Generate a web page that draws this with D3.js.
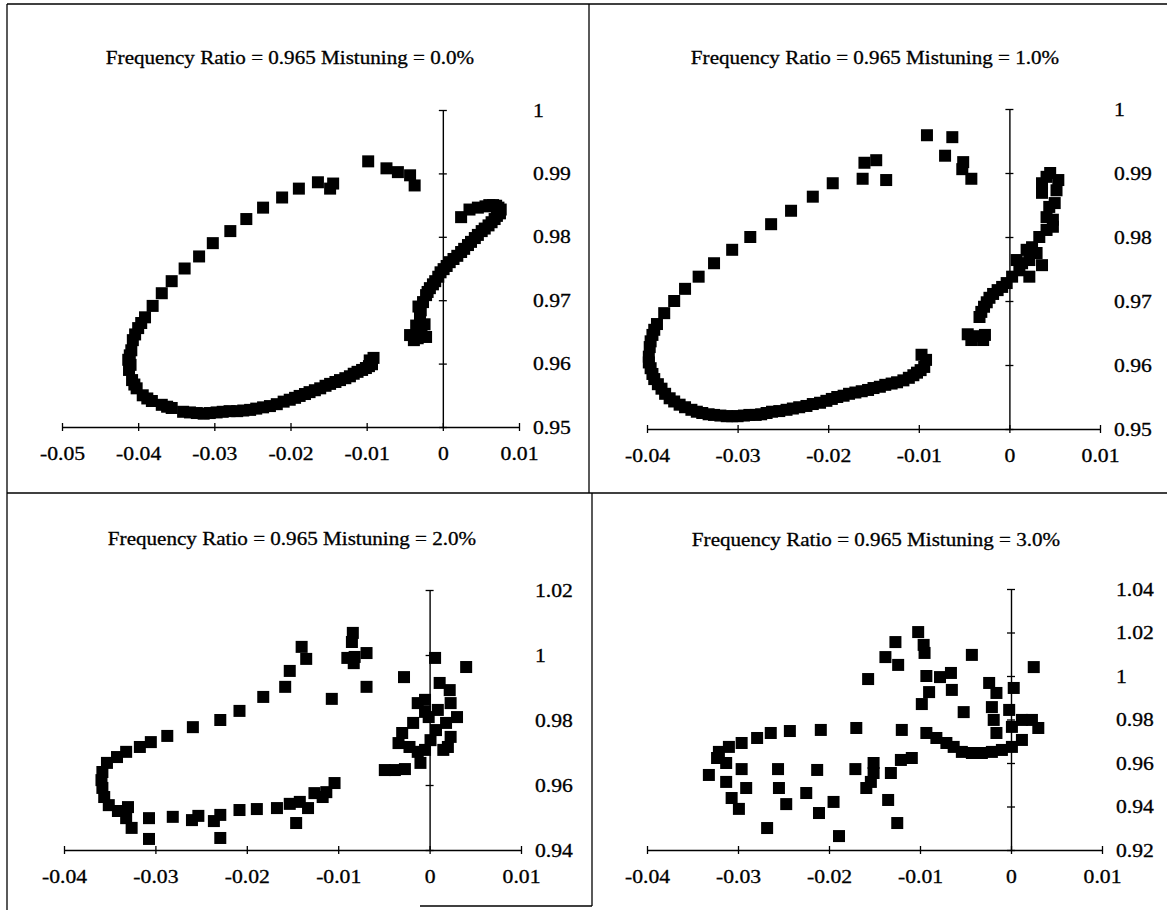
<!DOCTYPE html>
<html><head><meta charset="utf-8">
<script src="https://cdn.jsdelivr.net/npm/d3@7/dist/d3.min.js"></script>
<style>
html,body{margin:0;padding:0;background:#fff;}
svg{display:block;}
text{font-family:"Liberation Serif","Times New Roman",serif;fill:#000;}
</style></head>
<body>
<svg id="chart" width="1167" height="910"></svg>
<script>
// ---------- DATA ----------
const titles = [
  "Frequency Ratio = 0.965 Mistuning = 0.0%",
  "Frequency Ratio = 0.965 Mistuning = 1.0%",
  "Frequency Ratio = 0.965 Mistuning = 2.0%",
  "Frequency Ratio = 0.965 Mistuning = 3.0%"
];
const xTicksA = [-0.05,-0.04,-0.03,-0.02,-0.01,0,0.01];
const xTicksB = [-0.04,-0.03,-0.02,-0.01,0,0.01];
const yTicksA = [0.95,0.96,0.97,0.98,0.99,1];
const yTicksC = [0.94,0.96,0.98,1,1.02];
const yTicksD = [0.92,0.94,0.96,0.98,1,1.02,1.04];

const mist0 = [
 [-0.0037,0.9881],[-0.0043,0.9897],[-0.0059,0.9902],[-0.0074,0.9908],[-0.0098,0.9919],
 [-0.0144,0.9884],[-0.0148,0.9876],[-0.0164,0.9886],[-0.0189,0.9876],[-0.0211,0.9862],[-0.0236,0.9846],
 [-0.0258,0.9828],[-0.0279,0.9809],[-0.0302,0.9790],[-0.0320,0.9769],[-0.0339,0.9750],
 [-0.0356,0.9730],[-0.0369,0.9711],[-0.0381,0.9691],[-0.0391,0.9673],[-0.0400,0.9656],
 [-0.0396,0.9664],[-0.0404,0.9646],
 [-0.0407,0.9637],[-0.0409,0.9621],[-0.0411,0.9613],[-0.0413,0.9606],[-0.0410,0.9598],[-0.0412,0.9590],[-0.0408,0.9574],
 [-0.0405,0.9567],[-0.0402,0.9561],[-0.0394,0.9550],[-0.0388,0.9545],[-0.0382,0.9541],[-0.0369,0.9535],[-0.0362,0.9532],[-0.0356,0.9530],
 [-0.0341,0.9524],[-0.0332,0.9523],[-0.0323,0.9522],[-0.0314,0.9521],[-0.0306,0.9522],[-0.0297,0.9523],[-0.0289,0.9524],[-0.0280,0.9525],[-0.0270,0.9525],
 [-0.0262,0.9526],[-0.0253,0.9527],[-0.0245,0.9529],[-0.0236,0.9531],[-0.0227,0.9533],[-0.0218,0.9536],[-0.0209,0.9540],[-0.0201,0.9543],[-0.0194,0.9546],[-0.0188,0.9549],
 [-0.0181,0.9552],[-0.0175,0.9555],[-0.0168,0.9558],[-0.0161,0.9561],[-0.0154,0.9565],[-0.0148,0.9568],[-0.0141,0.9571],[-0.0135,0.9574],[-0.0128,0.9577],[-0.0122,0.9580],
 [-0.0117,0.9584],[-0.0112,0.9587],[-0.0106,0.9590],[-0.0101,0.9593],[-0.0097,0.9596],[-0.0093,0.9599],[-0.0096,0.9605],[-0.0091,0.9609],
 [-0.0043,0.9645],[-0.0033,0.9640],[-0.0022,0.9642],[-0.0038,0.9637],[-0.0028,0.9651],
 [-0.0035,0.9660],[-0.0024,0.9662],[-0.0030,0.9672],[-0.0029,0.9684],[-0.0032,0.9690],[-0.0026,0.9697],[-0.0022,0.9708],[-0.0020,0.9713],[-0.0017,0.9719],
 [-0.0013,0.9725],[-0.0010,0.9730],[-0.0006,0.9737],[-0.0003,0.9744],[0.0001,0.9749],[0.0005,0.9754],[0.0009,0.9760],[0.0014,0.9765],[0.0019,0.9770],[0.0024,0.9776],
 [0.0028,0.9781],[0.0033,0.9787],[0.0037,0.9792],[0.0042,0.9798],[0.0046,0.9803],[0.0051,0.9809],[0.0055,0.9813],[0.0060,0.9818],[0.0064,0.9823],[0.0068,0.9828],
 [0.0071,0.9833],[0.0075,0.9837],[0.0076,0.9843],[0.0073,0.9846],[0.0070,0.9849],[0.0066,0.9850],[0.0061,0.9850],[0.0056,0.9848],[0.0046,0.9846],
 [0.0035,0.9843],[0.0024,0.9831]
];
const mist1 = [
 [-0.0042,0.9891],[-0.0052,0.9906],[-0.0051,0.9917],[-0.0071,0.9927],[-0.0063,0.9956],
 [-0.0091,0.9959],[-0.0136,0.9889],[-0.0147,0.9920],[-0.0160,0.9916],[-0.0162,0.9891],
 [-0.0195,0.9884],[-0.0217,0.9863],[-0.0241,0.9841],[-0.0263,0.9820],[-0.0286,0.9800],
 [-0.0306,0.9780],[-0.0326,0.9759],[-0.0343,0.9738],[-0.0358,0.9719],[-0.0370,0.9700],
 [-0.0381,0.9681],[-0.0389,0.9664],[-0.0392,0.9655],[-0.0394,0.9647],[-0.0396,0.9637],[-0.0397,0.9628],[-0.0398,0.9613],
 [-0.0398,0.9604],[-0.0396,0.9595],[-0.0394,0.9586],[-0.0392,0.9578],[-0.0388,0.9570],[-0.0384,0.9563],[-0.0380,0.9555],[-0.0375,0.9548],[-0.0370,0.9543],[-0.0364,0.9538],
 [-0.0358,0.9534],[-0.0351,0.9530],[-0.0345,0.9527],[-0.0339,0.9525],[-0.0332,0.9523],[-0.0326,0.9522],[-0.0319,0.9521],[-0.0312,0.9520],[-0.0306,0.9520],[-0.0300,0.9520],
 [-0.0293,0.9521],[-0.0287,0.9522],[-0.0280,0.9522],[-0.0274,0.9523],[-0.0268,0.9525],[-0.0262,0.9527],[-0.0254,0.9528],[-0.0246,0.9530],[-0.0239,0.9532],[-0.0232,0.9534],
 [-0.0224,0.9536],[-0.0217,0.9539],[-0.0209,0.9541],[-0.0202,0.9544],[-0.0196,0.9547],[-0.0190,0.9550],[-0.0183,0.9552],[-0.0177,0.9555],[-0.0170,0.9557],[-0.0163,0.9559],
 [-0.0156,0.9561],[-0.0150,0.9564],[-0.0143,0.9566],[-0.0137,0.9569],[-0.0130,0.9571],[-0.0124,0.9573],[-0.0117,0.9576],[-0.0111,0.9580],[-0.0106,0.9584],[-0.0102,0.9588],
 [-0.0098,0.9592],[-0.0094,0.9597],[-0.0092,0.9608],[-0.0097,0.9616],
 [-0.0046,0.9648],[-0.0035,0.9645],[-0.0027,0.9647],[-0.0042,0.9639],[-0.0029,0.9639],
 [-0.0033,0.9675],[-0.0031,0.9683],[-0.0028,0.9691],[-0.0025,0.9698],[-0.0022,0.9705],[-0.0018,0.9711],[-0.0013,0.9717],[-0.0008,0.9722],[-0.0003,0.9728],
 [0.0003,0.9738],[0.0008,0.9764],[0.0011,0.9748],[0.0014,0.9759],[0.0022,0.9764],
 [0.0022,0.9738],[0.0036,0.9756],[0.0019,0.9780],[0.0025,0.9784],[0.0030,0.9775],
 [0.0033,0.9800],[0.0041,0.9811],[0.0048,0.9816],[0.0041,0.9831],[0.0044,0.9847],
 [0.0050,0.9853],[0.0048,0.9827],[0.0036,0.9869],[0.0036,0.9884],[0.0041,0.9894],
 [0.0045,0.9900],[0.0054,0.9889],[0.0052,0.9873]
];
const mist2 = [
 [-0.0084,1.0068],[-0.0085,1.0040],[-0.0082,0.9994],[-0.0090,0.9991],[-0.0069,1.0006],
 [-0.0083,0.9975],[-0.0069,0.9902],[-0.0107,0.9865],[-0.0140,1.0025],[-0.0135,0.9988],
 [-0.0153,0.9951],[-0.0158,0.9902],[-0.0182,0.9871],[-0.0208,0.9828],[-0.0229,0.9800],
 [-0.0259,0.9778],[-0.0287,0.9751],[-0.0305,0.9732],[-0.0317,0.9717],[-0.0332,0.9702],
 [-0.0342,0.9686],[-0.0353,0.9668],[-0.0358,0.9640],[-0.0359,0.9615],[-0.0358,0.9591],
 [-0.0356,0.9563],[-0.0351,0.9538],[-0.0341,0.9520],[-0.0330,0.9532],[-0.0332,0.9498],
 [-0.0326,0.9468],[-0.0307,0.9498],[-0.0307,0.9434],[-0.0281,0.9502],[-0.0260,0.9492],
 [-0.0253,0.9505],[-0.0236,0.9489],[-0.0229,0.9508],[-0.0229,0.9437],[-0.0208,0.9523],
 [-0.0189,0.9526],[-0.0167,0.9529],[-0.0153,0.9542],[-0.0142,0.9548],[-0.0133,0.9529],
 [-0.0146,0.9483],[-0.0126,0.9575],[-0.0117,0.9563],[-0.0113,0.9578],[-0.0104,0.9606],
 [-0.0028,0.9932],[0.0006,0.9991],[0.0040,0.9963],
 [-0.0049,0.9646],[-0.0038,0.9646],[-0.0027,0.9649],[-0.0010,0.9668],[-0.0005,0.9708],
 [-0.0034,0.9729],[-0.0030,0.9760],[-0.0018,0.9791],[-0.0013,0.9852],[-0.0005,0.9862],
 [0.0011,0.9914],[0.0022,0.9892],[0.0023,0.9852],[0.0030,0.9809],[0.0023,0.9748],
 [0.0015,0.9708],[0.0007,0.9769],[-0.0001,0.9809],[0.0001,0.9738],[0.0020,0.9717],
 [0.0018,0.9791],[0.0009,0.9831],[-0.0005,0.9825],[-0.0022,0.9717],[-0.0013,0.9702]
];
const mist3 = [
 [-0.0102,1.0202],[-0.0096,1.0143],[-0.0095,1.0106],[-0.0127,1.0156],[-0.0138,1.0087],
 [-0.0124,1.0051],[-0.0157,0.9986],[-0.0043,1.0097],[-0.0093,1.0000],[-0.0078,0.9995],
 [-0.0066,1.0014],[-0.0065,0.9936],[-0.0090,0.9926],[-0.0098,0.9871],[-0.0052,0.9834],
 [-0.0024,0.9968],[-0.0016,0.9922],[0.0003,0.9945],[-0.0021,0.9857],[-0.0019,0.9798],
 [-0.0016,0.9738],[-0.0002,0.9844],[0.0001,0.9766],[0.0012,0.9798],[0.0012,0.9706],
 [0.0030,0.9761],[0.0023,0.9798],[0.0025,1.0041],
 [-0.0093,0.9738],[-0.0082,0.9715],[-0.0071,0.9692],[-0.0063,0.9674],[-0.0054,0.9651],
 [-0.0043,0.9646],[-0.0032,0.9646],[-0.0021,0.9651],[-0.0010,0.9660],[0.0001,0.9674],
 [-0.0120,0.9752],[-0.0170,0.9761],[-0.0209,0.9752],[-0.0243,0.9747],[-0.0264,0.9738],
 [-0.0279,0.9715],[-0.0296,0.9692],[-0.0310,0.9674],[-0.0321,0.9651],[-0.0323,0.9623],
 [-0.0109,0.9623],[-0.0121,0.9614],[-0.0151,0.9600],[-0.0151,0.9554],[-0.0154,0.9513],
 [-0.0159,0.9485],[-0.0132,0.9554],[-0.0171,0.9572],[-0.0213,0.9568],[-0.0256,0.9572],
 [-0.0296,0.9572],[-0.0313,0.9600],[-0.0332,0.9545],[-0.0313,0.9513],[-0.0291,0.9485],
 [-0.0255,0.9485],[-0.0225,0.9462],[-0.0307,0.9439],[-0.0299,0.9389],[-0.0247,0.9411],
 [-0.0195,0.9421],[-0.0211,0.9370],[-0.0135,0.9430],[-0.0125,0.9324],[-0.0268,0.9301],
 [-0.0189,0.9264]
];

// ---------- LAYOUT ----------
const svg = d3.select("#chart");
const fmt = d => String(+(+d).toFixed(2));

const panels = [
  {data: mist0, title: titles[0], xd:[-0.05,0.01], xr:[62,519], yd:[0.95,1.0], yr:[427,110], xt:xTicksA, yt:yTicksA, tx:290, ty:64},
  {data: mist1, title: titles[1], xd:[-0.04,0.01], xr:[647,1100], yd:[0.95,1.0], yr:[429,109], xt:xTicksB, yt:yTicksA, tx:875, ty:64},
  {data: mist2, title: titles[2], xd:[-0.04,0.01], xr:[64,521], yd:[0.94,1.02], yr:[850,590], xt:xTicksB, yt:yTicksC, tx:292, ty:545},
  {data: mist3, title: titles[3], xd:[-0.04,0.01], xr:[647,1102], yd:[0.92,1.04], yr:[850,589], xt:xTicksB, yt:yTicksD, tx:876, ty:546}
];

// frame lines
const frame = svg.append("g").attr("stroke","#000").attr("stroke-width",1.3).attr("fill","none");
[[7,4,1167,4],[7,4,7,910],[589,4,589,493],[7,493,1167,493],[592,493,592,906],[420,906,592,906]]
  .forEach(l=>frame.append("line").attr("x1",l[0]).attr("y1",l[1]).attr("x2",l[2]).attr("y2",l[3]));

const STRETCH = 1.14;
const SQ = 12;

panels.forEach(p=>{
  const x = d3.scaleLinear().domain(p.xd).range(p.xr);
  const y = d3.scaleLinear().domain(p.yd).range(p.yr);
  const g = svg.append("g");

  const xa = g.append("g").attr("transform",`translate(0,${y(p.yd[0])})`)
    .call(d3.axisBottom(x).tickValues(p.xt).tickSizeInner(4).tickSizeOuter(0).tickPadding(16).tickFormat(fmt));
  xa.select(".domain").attr("stroke","#000").attr("stroke-width",1.4);
  xa.selectAll(".tick line").attr("y1",-4).attr("y2",4).attr("stroke-width",1.3);
  xa.selectAll(".tick text").attr("font-size",19).attr("font-family","Liberation Serif");

  const ya = g.append("g").attr("transform",`translate(${x(0)},0)`)
    .call(d3.axisLeft(y).tickValues(p.yt).tickSizeInner(4).tickSizeOuter(0).tickFormat(""));
  ya.select(".domain").attr("stroke","#000").attr("stroke-width",1.4);
  ya.selectAll(".tick line").attr("x1",-4).attr("x2",4).attr("stroke-width",1.3);

  const yl = g.append("g").attr("transform",`translate(${p.xr[1]+14},0)`)
    .call(d3.axisRight(y).tickValues(p.yt).tickSize(0).tickPadding(0).tickFormat(fmt));
  yl.select(".domain").remove();
  yl.selectAll(".tick text").attr("font-size",19).attr("font-family","Liberation Serif");

  g.append("text").attr("x",p.tx).attr("y",p.ty).attr("text-anchor","middle")
    .attr("font-size",18.5).text(p.title);

  g.append("g").selectAll("rect").data(p.data).join("rect")
    .attr("x",d=>x(d[0])-SQ/2).attr("y",d=>y(d[1])-SQ/2)
    .attr("width",SQ).attr("height",SQ).attr("fill","#000");
});

svg.selectAll("text").each(function(){
  const w = this.getComputedTextLength();
  d3.select(this).attr("textLength", w*STRETCH).attr("lengthAdjust","spacingAndGlyphs")
    .attr("stroke","#000").attr("stroke-width",0.3);
});
</script>
</body></html>
